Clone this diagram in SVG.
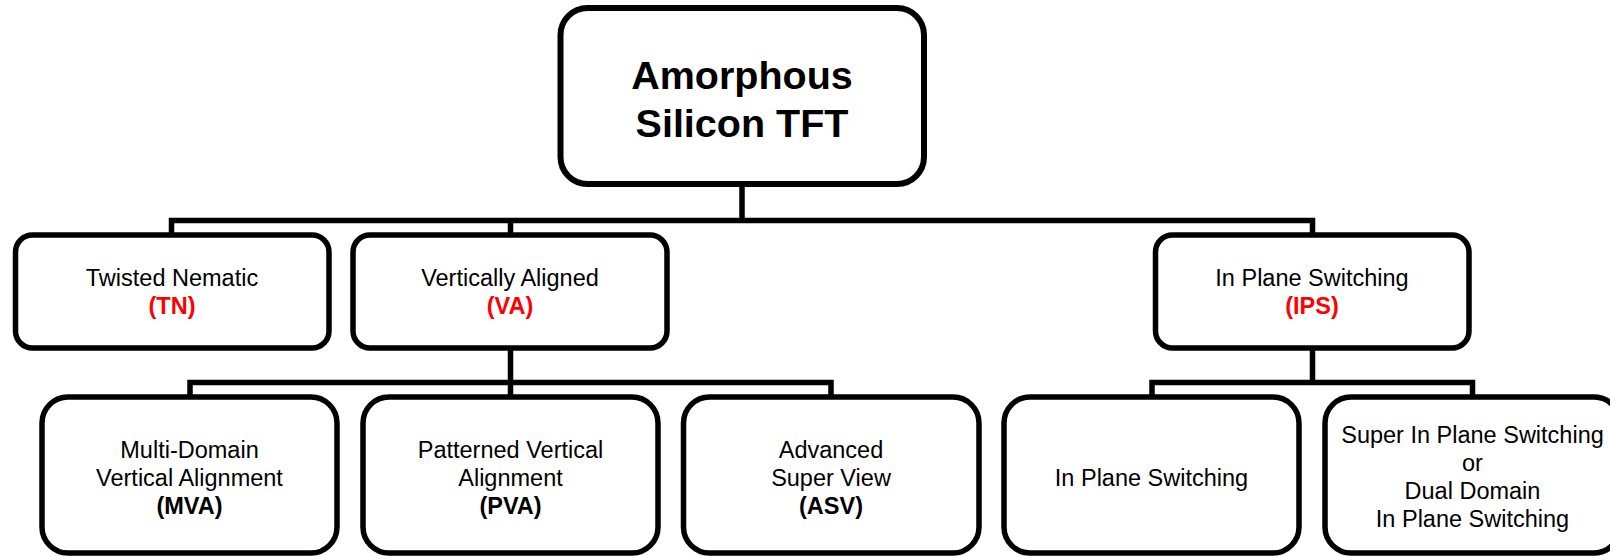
<svg xmlns="http://www.w3.org/2000/svg" width="1610" height="556" viewBox="0 0 1610 556">
<style>
.box{fill:#fff;stroke:#000;stroke-width:5.5}
.conn{fill:none;stroke:#000;stroke-width:5.5;stroke-linejoin:miter;stroke-linecap:butt}
text{font-family:"Liberation Sans",Arial,sans-serif;text-anchor:middle;fill:#000}
.t0{font-size:39.5px;font-weight:bold}
.t{font-size:23.5px}
.b{font-weight:bold}
.red{fill:#ff0000;font-weight:bold}
</style>
<rect width="1610" height="556" fill="#fff"/>
<g id="connectors">
<path class="conn" d="M742 184 V220.5 M171.5 235 V220.5 H1312.5 V235 M510.5 220.5 V235"/>
<path class="conn" d="M510.5 348 V397 M190 397 V382.5 H831 V397"/>
<path class="conn" d="M1312.5 348 V382.5 M1152 397 V382.5 H1472.5 V397"/>
</g>
<g id="root">
<rect class="box" x="560.5" y="8" width="363.5" height="176" rx="27" style="stroke-width:6"/>
<text class="t0" x="742" y="88.5">Amorphous</text>
<text class="t0" x="742" y="137">Silicon TFT</text>
</g>
<g id="tn">
<rect class="box" x="15.5" y="235" width="313.5" height="113" rx="17"/>
<text class="t" x="172" y="286">Twisted Nematic</text>
<text class="t red" x="172" y="314">(TN)</text>
</g>
<g id="va">
<rect class="box" x="353" y="235" width="314" height="113" rx="17"/>
<text class="t" x="510" y="286">Vertically Aligned</text>
<text class="t red" x="510" y="314">(VA)</text>
</g>
<g id="ips">
<rect class="box" x="1155.5" y="235" width="313.5" height="113" rx="17"/>
<text class="t" x="1312" y="286">In Plane Switching</text>
<text class="t red" x="1312" y="314">(IPS)</text>
</g>
<g id="mva">
<rect class="box" x="42" y="397" width="295" height="156" rx="26"/>
<text class="t" x="189.5" y="458">Multi-Domain</text>
<text class="t" x="189.5" y="486">Vertical Alignment</text>
<text class="t b" x="189.5" y="514">(MVA)</text>
</g>
<g id="pva">
<rect class="box" x="363" y="397" width="295" height="156" rx="26"/>
<text class="t" x="510.5" y="458">Patterned Vertical</text>
<text class="t" x="510.5" y="486">Alignment</text>
<text class="t b" x="510.5" y="514">(PVA)</text>
</g>
<g id="asv">
<rect class="box" x="683.5" y="397" width="295.5" height="156" rx="26"/>
<text class="t" x="831" y="458">Advanced</text>
<text class="t" x="831" y="486">Super View</text>
<text class="t b" x="831" y="514">(ASV)</text>
</g>
<g id="ips2">
<rect class="box" x="1004" y="397" width="295" height="156" rx="26"/>
<text class="t" x="1151.5" y="486">In Plane Switching</text>
</g>
<g id="sips">
<rect class="box" x="1325" y="397" width="295" height="156" rx="26"/>
<text class="t" x="1472.5" y="443">Super In Plane Switching</text>
<text class="t" x="1472.5" y="471">or</text>
<text class="t" x="1472.5" y="499">Dual Domain</text>
<text class="t" x="1472.5" y="527">In Plane Switching</text>
</g>
</svg>
